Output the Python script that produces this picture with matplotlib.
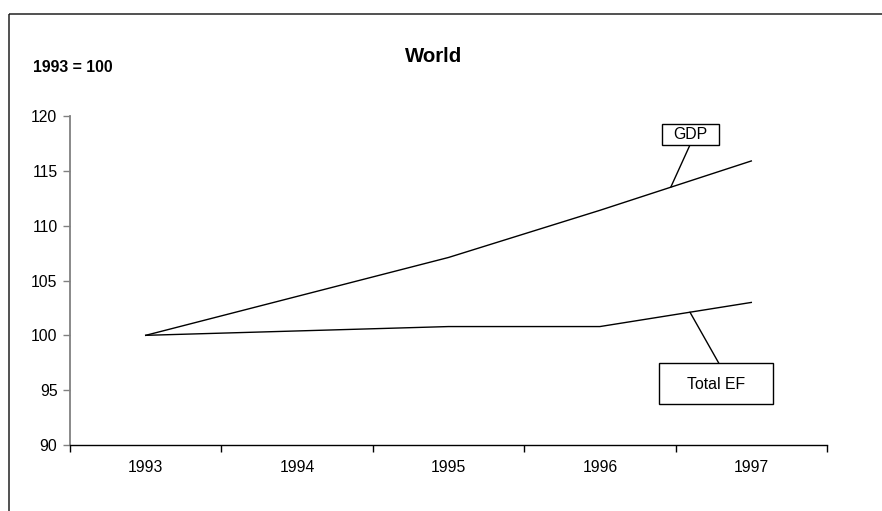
import numpy as np
import matplotlib
matplotlib.use("Agg")
import matplotlib.pyplot as plt
from matplotlib.patches import Rectangle

plt.rcParams['font.family'] = ['Liberation Sans', 'DejaVu Sans']

# Index values, 1993 = 100
years = ["1993", "1994", "1995", "1996", "1997"]
gdp = [100.0, 103.55, 107.1, 111.4, 115.9]
total_ef = [100.0, 100.4, 100.8, 100.8, 103.0]
y_ticks = [90, 95, 100, 105, 110, 115, 120]

W, H = 882, 511
fig = plt.figure(figsize=(W / 100, H / 100), dpi=100)
fig.patch.set_facecolor("white")

# outer chart frame (runs off the right and bottom edges)
fig.add_artist(Rectangle((9 / W, 1 - 14 / H), 2.0, -2.0, transform=fig.transFigure,
                         fill=False, edgecolor="#222222", linewidth=1.1))

ax = fig.add_axes([70 / W, 1 - 445 / H, (827 - 70) / W, (445 - 116) / H])
x = np.arange(len(years))

ax.plot(x, gdp, color="black", linewidth=1.0)
ax.plot(x, total_ef, color="black", linewidth=1.0)

ax.set_xlim(-0.5, len(years) - 0.5)
ax.set_ylim(90, 120)
ax.set_yticks(y_ticks)
ax.set_yticklabels([str(v) for v in y_ticks], fontsize=11.3)
ax.set_xticks(x)
ax.set_xticklabels(years, fontsize=11.3)
ax.set_xticks(np.arange(-0.5, len(years)), minor=True)
ax.tick_params(axis="x", which="major", length=0, pad=11)
ax.tick_params(axis="x", which="minor", length=5, width=1.0, color="black", direction="out")
ax.tick_params(axis="y", length=5, width=1.0, color="#808080", pad=4)

for s in ("top", "right"):
    ax.spines[s].set_visible(False)
ax.spines["left"].set_color("#808080")
ax.spines["left"].set_linewidth(1.3)
ax.spines["bottom"].set_color("black")
ax.spines["bottom"].set_linewidth(1.0)

# titles
fig.text(434 / W, 1 - 57 / H, "World", ha="center", va="center",
         fontsize=14.7, fontweight="bold")
fig.text(33 / W, 1 - 68 / H, "1993 = 100", ha="left", va="center",
         fontsize=11.4, fontweight="bold")

# series labels with leader lines
def callout(text, box, text_xy, anchor_x, series, start):
    x0, y0, x1, y1 = box
    ax.add_patch(Rectangle((x0, y0), x1 - x0, y1 - y0, transform=ax.transAxes,
                           fill=True, facecolor="white", edgecolor="black",
                           linewidth=1.0, clip_on=False, zorder=3))
    ax.text(text_xy[0], text_xy[1], text, transform=ax.transAxes,
            ha="center", va="center", fontsize=11.4, zorder=4)
    anchor_y = np.interp(anchor_x, x, series)
    ax.annotate("", xy=(anchor_x, anchor_y), xycoords="data",
                xytext=start, textcoords="axes fraction",
                arrowprops=dict(arrowstyle="-", color="black", lw=1.0,
                                shrinkA=0, shrinkB=0), zorder=2)

callout("GDP", (0.782, 0.912, 0.857, 0.976), (0.8197, 0.944), 3.468, gdp, (0.819, 0.912))
callout("Total EF", (0.778, 0.1246, 0.9287, 0.249), (0.853, 0.185), 3.595, total_ef, (0.857, 0.249))

fig.savefig("out.png", dpi=100)
